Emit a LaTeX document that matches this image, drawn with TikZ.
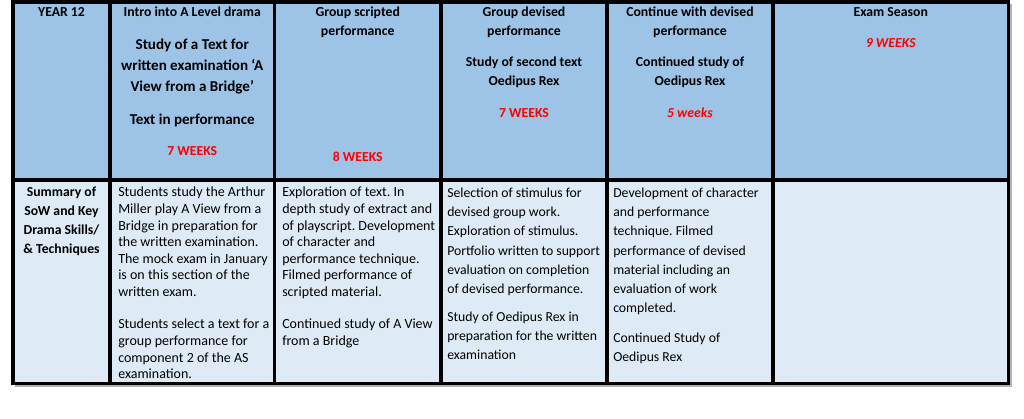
\documentclass[tikz,border=0pt]{standalone}
\usepackage{fontspec}
\setmainfont{Carlito}
\usepackage{xcolor}
\frenchspacing
\definecolor{headblue}{HTML}{9DC3E6}
\definecolor{bodyblue}{HTML}{DEEBF7}
\definecolor{weekred}{HTML}{FF0000}
\tikzstyle{rule}=[line width=2.4pt,black]
\tikzstyle{head}=[anchor=north,inner sep=0,align=center,font=\fontsize{10.3}{14.25}\selectfont\bfseries]
\tikzstyle{big}=[head,font=\fontsize{11.3}{15.75}\selectfont\bfseries]
\tikzstyle{weeks}=[head,text=weekred]
\tikzstyle{slant}=[weeks,font=\fontsize{10.3}{14.25}\selectfont\bfseries\itshape]
\tikzstyle{body}=[anchor=north west,inner sep=0,align=left,font=\fontsize{10.5}{12.45}\selectfont]
\tikzstyle{wide}=[body,font=\fontsize{10.3}{14.3}\selectfont]
\def\colline#1{\draw[rule] (#1,\ytop) -- (#1,\ybot)}

\begin{document}
\begin{tikzpicture}[x=0.75pt,y=-0.75pt]
        \def\ytop{2}
        \def\ymid{180}
        \def\ybot{383.5}
        \def\xl{13}
        \def\xr{1008.5}
        \useasboundingbox (0,0) rectangle (1024,418);

        % cells
        \fill[gray!60] (\xl+2,\ytop+2) rectangle (\xr+3,\ybot+3);
        \fill[headblue] (\xl,\ytop) rectangle (\xr,\ymid);
        \fill[bodyblue] (\xl,\ymid) rectangle (\xr,\ybot);

        \foreach \x in {110,274.5,441,607,773}
            \colline{\x};
        \draw[rule] (\xl,\ymid) -- (\xr,\ymid);
        \draw[rule] (\xl,\ytop) rectangle (\xr,\ybot);

        % header row
        \node[head] (year) at (61.5,7) {YEAR 12};
        \node[head] (intro) at (192.25,7) {Intro into A Level drama};
        \node[big] (study) at (192.25,38.5) {Study of a Text for\\written examination ‘A\\View from a Bridge’};
        \node[big] (perf) at (192.25,113.5) {Text in performance};
        \node[weeks] (wkA) at (192.25,146) {7 WEEKS};
        \node[head] (scripted) at (357.75,7) {Group scripted\\performance};
        \node[weeks] (wkB) at (357.75,152) {8 WEEKS};
        \node[head] (devised) at (524,7) {Group devised\\performance};
        \node[head] (second) at (524,57) {Study of second text\\Oedipus Rex};
        \node[weeks] (wkC) at (524,108) {7 WEEKS};
        \node[head] (continue) at (690,7) {Continue with devised\\performance};
        \node[head] (oedipus) at (690,57) {Continued study of\\Oedipus Rex};
        \node[slant] (wkD) at (690,108) {5 weeks};
        \node[head] (exam) at (890.75,7) {Exam Season};
        \node[slant] (wkE) at (890.75,38) {9 WEEKS};

        % summary row
        \node[head] (summary) at (61.5,187) {Summary of\\SoW and Key\\Drama Skills/\\\& Techniques};
        \node[body] (miller) at (118,187) {Students study the Arthur\\Miller play A View from a\\Bridge in preparation for\\the written examination.\\The mock exam in January\\is on this section of the\\written exam.};
        \node[body] (select) at (118,319) {Students select a text for a\\group performance for\\component 2 of the AS\\examination.};
        \node[body] (explore) at (282,187) {Exploration of text. In\\depth study of extract and\\of playscript. Development\\of character and\\performance technique.\\Filmed performance of\\scripted material.};
        \node[body] (view) at (282,319) {Continued study of A View\\from a Bridge};
        \node[wide] (stimulus) at (447,188) {Selection of stimulus for\\devised group work.\\Exploration of stimulus.\\Portfolio written to support\\evaluation on completion\\of devised performance.};
        \node[wide] (rex) at (447,312) {Study of Oedipus Rex in\\preparation for the written\\examination};
        \node[wide] (character) at (613,188) {Development of character\\and performance\\technique. Filmed\\performance of devised\\material including an\\evaluation of work\\completed.};
        \node[wide] (cont) at (613,333) {Continued Study of\\Oedipus Rex};
\end{tikzpicture}
\end{document}
